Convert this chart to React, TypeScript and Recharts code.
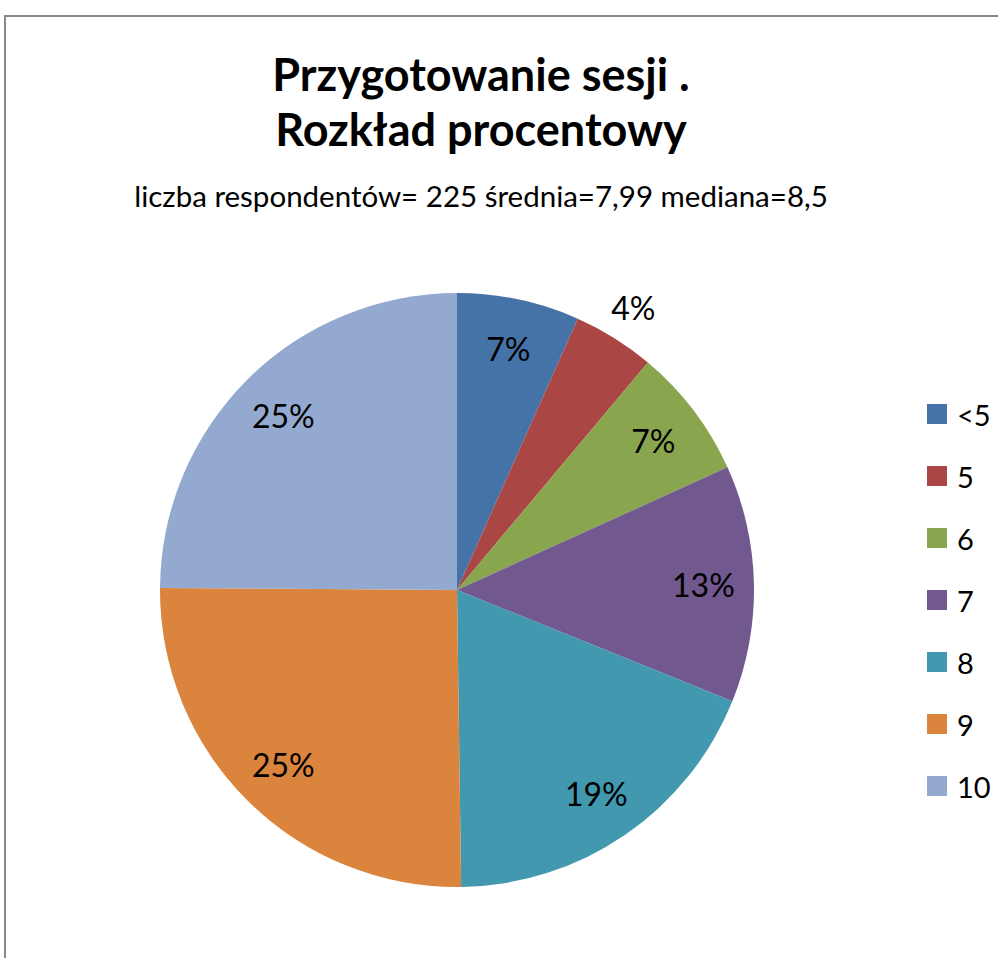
import { PieChart, Pie, Cell, Legend } from 'recharts';

// survey answers (count of respondents per score, n = 225)
const categories = ['<5', '5', '6', '7', '8', '9', '10'];
const counts = [15, 10, 16, 29, 42, 57, 56];
const COLORS = ['#4572A7', '#AA4643', '#89A54E', '#71588F', '#4198AF', '#DB843D', '#93A9CF'];

const TITLE = ['Przygotowanie sesji .', 'Rozkład procentowy'];
const SUBTITLE = 'liczba respondentów= 225 średnia=7,99 mediana=8,5';

const FONT = 'Lato, "Open Sans", sans-serif';
const RAD = Math.PI / 180;

const data = categories.map((name, i) => ({ name, value: counts[i] }));

const renderLabel = (props: any) => {
  const { cx, cy, midAngle, outerRadius, percent, index } = props;
  // the small "5" slice gets its label outside, like the original
  const r = index === 1 ? outerRadius * 1.12 : outerRadius * 0.83;
  const x = cx + r * Math.cos(-midAngle * RAD);
  const y = cy + r * Math.sin(-midAngle * RAD);
  return (
    <text
      x={x}
      y={y}
      fill="#000"
      textAnchor="middle"
      dominantBaseline="central"
      fontSize={32}
      fontFamily={FONT}
    >
      {`${Math.round(percent * 100)}%`}
    </text>
  );
};

const renderLegend = () => (
  <div>
    {categories.map((c, i) => (
      <div
        key={c}
        style={{ display: 'flex', alignItems: 'center', height: 62 }}
      >
        <div style={{ width: 20, height: 20, background: COLORS[i], marginRight: 10 }} />
        <span style={{ fontSize: 29, fontFamily: FONT, color: '#000' }}>{c}</span>
      </div>
    ))}
  </div>
);

export default function App() {
  return (
    <div style={{ position: 'absolute', left: 0, top: 0, width: 998, height: 958, background: '#fff', overflow: 'hidden' }}>
      <div
        style={{
          position: 'absolute',
          left: 4,
          top: 15,
          width: 1100,
          height: 1100,
          borderLeft: '2px solid #888',
          borderTop: '2px solid #888',
        }}
      />
      <div
        style={{
          position: 'absolute',
          left: 0,
          width: 962,
          top: 47,
          textAlign: 'center',
          fontFamily: FONT,
          fontWeight: 'bold',
          fontSize: 45,
          lineHeight: '55px',
          color: '#000',
        }}
      >
        <div>{TITLE[0]}</div>
        <div>{TITLE[1]}</div>
      </div>
      <div
        style={{
          position: 'absolute',
          left: 0,
          width: 962,
          top: 178,
          textAlign: 'center',
          fontFamily: FONT,
          fontSize: 29.5,
          color: '#000',
        }}
      >
        {SUBTITLE}
      </div>
      <div style={{ position: 'absolute', left: 0, top: 0 }}>
        <PieChart width={998} height={958}>
          <Pie
            data={data}
            dataKey="value"
            nameKey="name"
            cx={452}
            cy={585}
            outerRadius={297}
            startAngle={90}
            endAngle={-270}
            stroke="none"
            labelLine={false}
            label={renderLabel}
            isAnimationActive={false}
          >
            {data.map((d, i) => (
              <Cell key={`cell-${d.name}`} fill={COLORS[i]} />
            ))}
          </Pie>
          <Legend
            layout="vertical"
            content={renderLegend}
            wrapperStyle={{ left: 927, top: 383, width: 80 }}
          />
        </PieChart>
      </div>
    </div>
  );
}
